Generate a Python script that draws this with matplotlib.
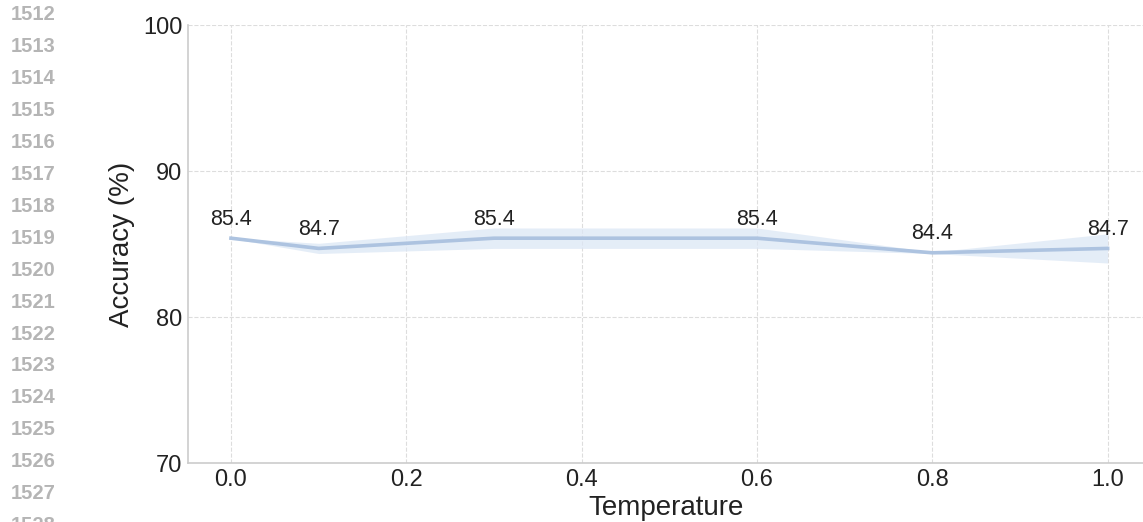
import numpy as np
import matplotlib.pyplot as plt

# data
temperature = [0.0, 0.1, 0.3, 0.6, 0.8, 1.0]
accuracy = [85.4, 84.7, 85.4, 85.4, 84.4, 84.7]
spread = [0.02, 0.35, 0.7, 0.7, 0.05, 1.0]
y_ticks = [70, 80, 90, 100]
x_ticks = [0.0, 0.2, 0.4, 0.6, 0.8, 1.0]
line_numbers = list(range(1512, 1529))

plt.rcParams['font.family'] = ['Liberation Sans', 'DejaVu Sans']

fig = plt.figure(figsize=(11.43, 5.22), dpi=100)
ax = fig.add_axes([0.1645, 0.113, 0.836, 0.839])

acc = np.array(accuracy)
sd = np.array(spread)
ax.fill_between(temperature, acc - sd, acc + sd, color='#dce7f5', alpha=0.75, lw=0)
ax.plot(temperature, acc, color='#adc3e0', lw=2.6, solid_joinstyle='round')

for t, a in zip(temperature, accuracy):
    ax.annotate(f"{a:.1f}", (t, a), xytext=(0, 6), textcoords='offset points',
                ha='center', va='bottom', fontsize=15.5, color='#222222')

ax.set_xlim(-0.049, 1.041)
ax.set_ylim(70, 100)
ax.set_xticks(x_ticks)
ax.set_xticklabels([f"{v:.1f}" for v in x_ticks])
ax.set_yticks(y_ticks)
ax.tick_params(length=0, labelsize=17, colors='#222222')
ax.tick_params(axis='x', pad=4)
ax.tick_params(axis='y', pad=4)
ax.grid(True, ls='--', color='#dddddd', lw=0.8)
ax.set_axisbelow(True)
for s in ['top', 'right']:
    ax.spines[s].set_visible(False)
for s in ['left', 'bottom']:
    ax.spines[s].set_color('#cccccc')
    ax.spines[s].set_linewidth(1.2)

ax.set_xlabel('Temperature', fontsize=20, color='#222222', labelpad=3)
ax.set_ylabel('Accuracy (%)', fontsize=20, color='#222222', labelpad=6)

# paper line numbers down the left margin
for i, n in enumerate(line_numbers):
    y = 1 - (15 + i * 31.9) / 522
    fig.text(0.009, y, str(n), fontsize=14.5, fontweight='bold', color='#b5b5b5',
             va='center', ha='left')

fig.savefig('out.png', dpi=100)
